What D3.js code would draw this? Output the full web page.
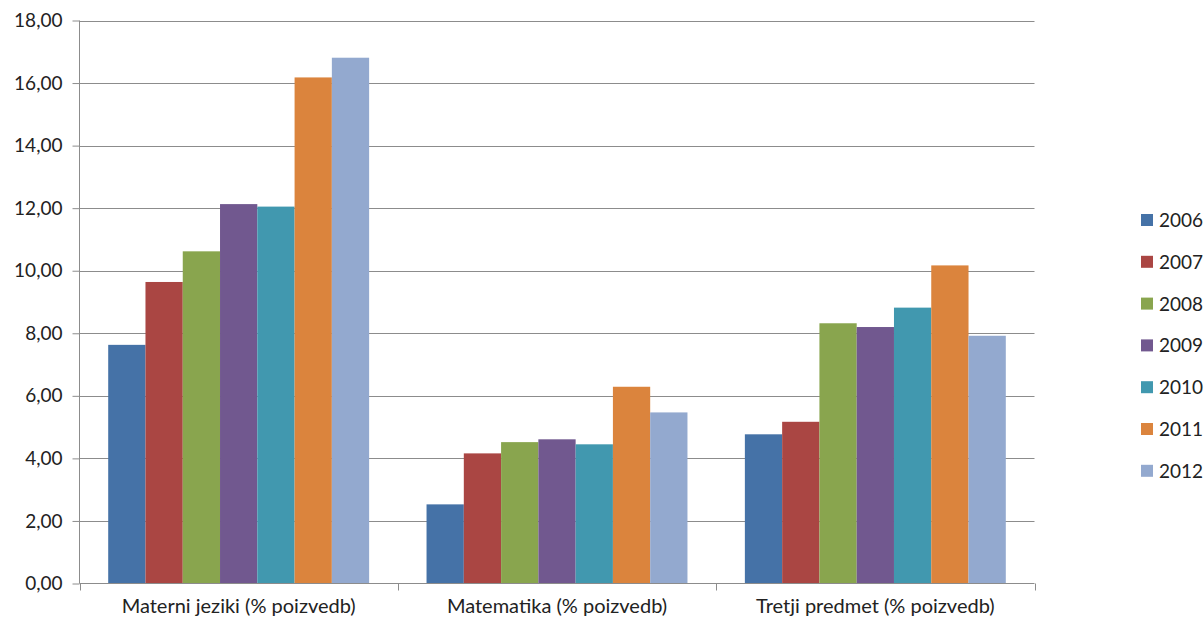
<!DOCTYPE html>
<html>
<head>
<meta charset="utf-8">
<script src="https://cdn.jsdelivr.net/npm/d3@7/dist/d3.min.js"></script>
<style>
  body { margin: 0; background: #fff; }
  text { font-family: Lato, "Open Sans", sans-serif; fill: #222; }
</style>
</head>
<body>
<div id="chart"></div>
<script>
// data
var categories = ['Materni jeziki (% poizvedb)', 'Matematika (% poizvedb)', 'Tretji predmet (% poizvedb)'];
var years = ['2006', '2007', '2008', '2009', '2010', '2011', '2012'];
var materni = [7.63, 9.64, 10.62, 12.13, 12.05, 16.18, 16.81];
var matematika = [2.53, 4.16, 4.52, 4.61, 4.45, 6.29, 5.47];
var tretji = [4.77, 5.17, 8.32, 8.20, 8.82, 10.17, 7.92];
var yTicks = [0, 2, 4, 6, 8, 10, 12, 14, 16, 18];
var colors = ['#4572A7', '#AA4643', '#89A54E', '#71588F', '#4198AF', '#DB843D', '#93A9CF'];

var seriesByCategory = [materni, matematika, tretji];

var width = 1204,
    height = 622,
    plotLeft = 79.5,
    plotRight = 1034.5,
    plotTop = 20.5,
    plotBottom = 583.5;

var svg = d3.select('#chart')
  .append('svg')
    .attr('width', width)
    .attr('height', height);

var y = d3.scaleLinear()
  .domain([0, 18])
  .range([plotBottom, plotTop]);

var x0 = d3.scaleBand()
  .domain(categories)
  .range([plotLeft, plotRight])
  .padding(0);

var x1 = d3.scaleBand()
  .domain(years)
  .range([0, x0.bandwidth()])
  .paddingInner(0)
  .paddingOuter(0.77);

// grid lines
svg.append('g')
  .selectAll('line')
  .data(yTicks.slice(1))
  .enter().append('line')
    .attr('x1', plotLeft)
    .attr('x2', plotRight)
    .attr('y1', function(d) { return Math.round(y(d)) + 0.5; })
    .attr('y2', function(d) { return Math.round(y(d)) + 0.5; })
    .attr('stroke', '#8c8c8c')
    .attr('stroke-width', 1);

// bars
var groups = svg.append('g')
  .selectAll('g')
  .data(categories)
  .enter().append('g')
    .attr('transform', function(d) { return 'translate(' + x0(d) + ',0)'; });

groups.selectAll('rect')
  .data(function(d, i) {
    return seriesByCategory[i].map(function(v, j) { return { year: years[j], value: v }; });
  })
  .enter().append('rect')
    .attr('x', function(d) { return x1(d.year); })
    .attr('y', function(d) { return y(d.value); })
    .attr('width', x1.bandwidth())
    .attr('height', function(d) { return y(0) - y(d.value); })
    .attr('fill', function(d, j) { return colors[j]; });

// y axis
var yAxis = d3.axisLeft(y)
  .tickValues(yTicks)
  .tickSize(7)
  .tickPadding(10)
  .tickFormat(function(d) { return d3.format('.2f')(d).replace('.', ','); });

var yg = svg.append('g')
  .attr('transform', 'translate(' + plotLeft + ',0)')
  .call(yAxis);

yg.select('.domain').attr('stroke', '#8c8c8c').attr('d', 'M0,' + plotTop + 'V' + plotBottom);
yg.selectAll('.tick line').attr('stroke', '#8c8c8c');
yg.selectAll('.tick text')
  .style('font-size', '19px')
  .style('font-family', 'Lato, sans-serif')
  .attr('fill', '#222');

// x axis: boundary ticks between categories
var xg = svg.append('g');

xg.append('line')
  .attr('x1', plotLeft)
  .attr('x2', plotRight)
  .attr('y1', plotBottom)
  .attr('y2', plotBottom)
  .attr('stroke', '#8c8c8c');

xg.selectAll('.bound')
  .data(categories.concat(['end']))
  .enter().append('line')
    .attr('class', 'bound')
    .attr('x1', function(d, i) { return Math.round(plotLeft + i * x0.step()) + 0.5; })
    .attr('x2', function(d, i) { return Math.round(plotLeft + i * x0.step()) + 0.5; })
    .attr('y1', plotBottom)
    .attr('y2', plotBottom + 7)
    .attr('stroke', '#8c8c8c');

xg.selectAll('.cat')
  .data(categories)
  .enter().append('text')
    .attr('class', 'cat')
    .attr('x', function(d) { return x0(d) + x0.bandwidth() / 2; })
    .attr('y', 613)
    .attr('text-anchor', 'middle')
    .style('font-size', '20px')
    .text(function(d) { return d; });

// legend
var legend = svg.append('g')
  .attr('transform', 'translate(1141,220)');

var item = legend.selectAll('g')
  .data(years)
  .enter().append('g')
    .attr('transform', function(d, i) { return 'translate(0,' + i * 41.8 + ')'; });

item.append('rect')
  .attr('x', 0)
  .attr('y', -6)
  .attr('width', 12)
  .attr('height', 12)
  .attr('fill', function(d, i) { return colors[i]; });

item.append('text')
  .attr('x', 18)
  .attr('y', 7)
  .style('font-size', '19px')
  .text(function(d) { return d; });
</script>
</body>
</html>
